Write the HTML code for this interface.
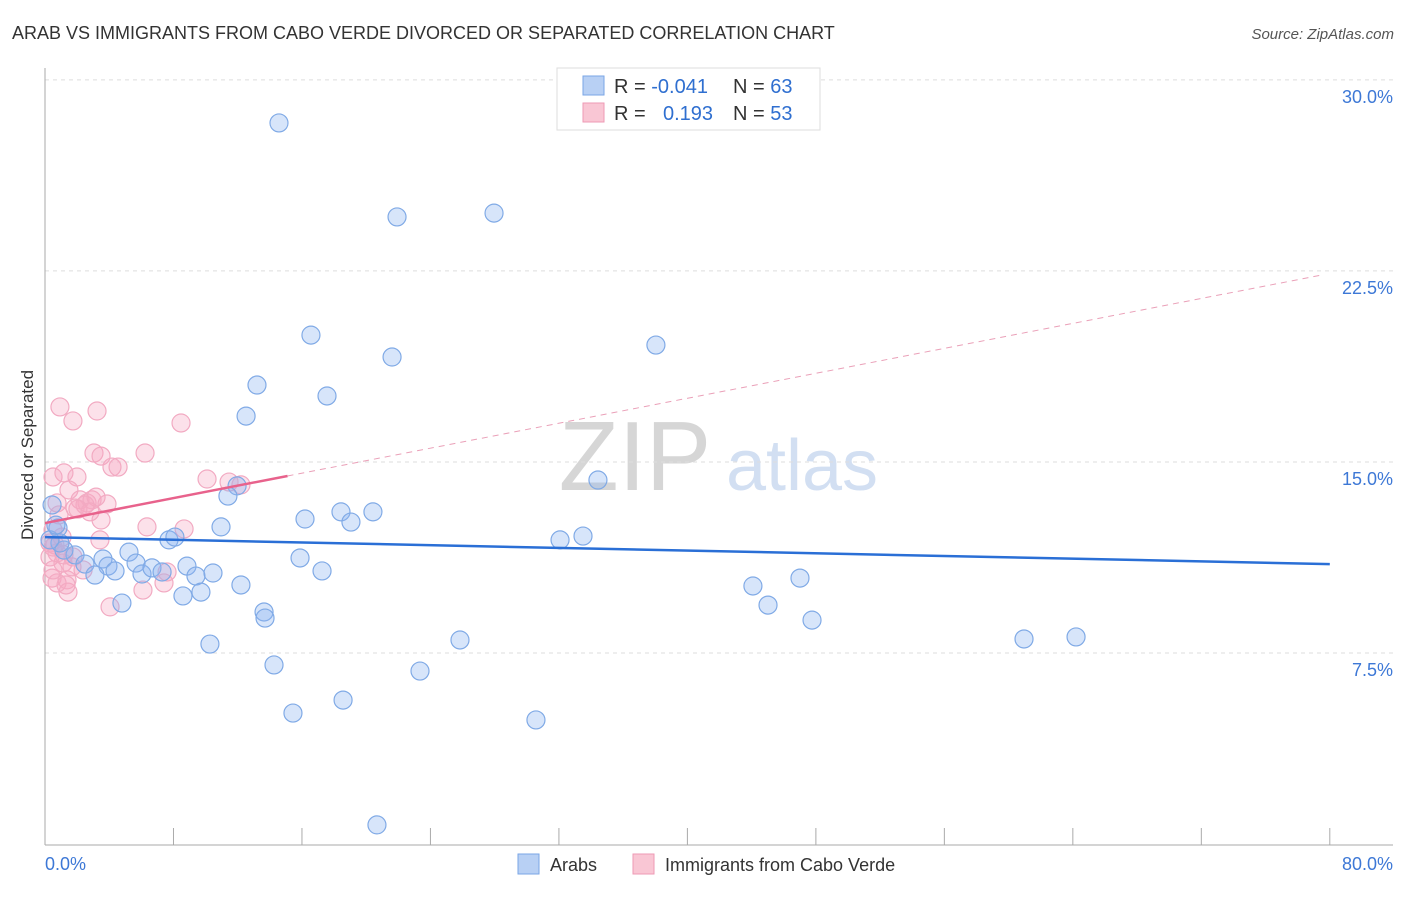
<!DOCTYPE html>
<html><head><meta charset="utf-8"><style>
body{margin:0;background:#fff;font-family:"Liberation Sans",sans-serif;}
svg text{font-family:"Liberation Sans",sans-serif;}
</style></head><body>
<svg id="chart" width="1406" height="892" xmlns="http://www.w3.org/2000/svg">
<text x="12" y="39" font-size="18" fill="#333">ARAB VS IMMIGRANTS FROM CABO VERDE DIVORCED OR SEPARATED CORRELATION CHART</text>
<text x="1394" y="39" font-size="15" fill="#555" text-anchor="end" font-style="italic">Source: ZipAtlas.com</text>
<g>
<text x="635" y="490" font-size="98" fill="#d6d6d6" font-family="Liberation Serif" text-anchor="middle">ZIP</text>
<text x="802" y="490" font-size="72" fill="#c8d8f0" text-anchor="middle" opacity="0.8">atlas</text>
</g>
<g id="grid"></g>
<g id="axes"></g>
<g id="marks"></g>
<text transform="translate(33,455) rotate(-90)" font-size="17" fill="#333" text-anchor="middle">Divorced or Separated</text>
<g>
<rect x="557" y="68" width="263" height="62" fill="#fff" stroke="#ddd"/>
<rect x="583" y="76" width="21" height="19" fill="#b8d0f4" stroke="#7aa6e6"/>
<rect x="583" y="103" width="21" height="19" fill="#f9c6d4" stroke="#ee9ab4"/>
<text x="614" y="93" font-size="20" fill="#333">R = <tspan fill="#2f6fd0">-0.041</tspan></text>
<text x="733" y="93" font-size="20" fill="#333">N = <tspan fill="#2f6fd0">63</tspan></text>
<text x="614" y="120" font-size="20" fill="#333">R = </text>
<text x="663" y="120" font-size="20" fill="#2f6fd0">0.193</text>
<text x="733" y="120" font-size="20" fill="#333">N = <tspan fill="#2f6fd0">53</tspan></text>
</g>
<g>
<rect x="518" y="854" width="21" height="20" fill="#b8d0f4" stroke="#7aa6e6"/>
<text x="550" y="871" font-size="18" fill="#333">Arabs</text>
<rect x="633" y="854" width="21" height="20" fill="#f9c6d4" stroke="#ee9ab4"/>
<text x="665" y="871" font-size="18" fill="#333">Immigrants from Cabo Verde</text>
</g>
</svg>
<script>
const yTicks=[7.5,15,22.5,30];
const yTickLabels=["7.5%","15.0%","22.5%","30.0%"];
const xTickCount=[0,8,16,24,32,40,48,56,64,72,80];
const arabX=[14.57,21.92,27.96,16.56,21.61,38.04,13.2,17.56,12.52,34.43,11.96,11.39,18.43,20.42,16.19,19.05,10.96,32.07,33.5,7.72,8.09,5.23,3.61,1.87,2.49,1.18,0.93,0.81,0.44,5.67,3.92,4.36,3.11,6.04,6.66,7.29,8.84,9.4,10.46,15.88,17.25,12.2,8.59,9.71,4.79,13.64,13.7,10.27,14.26,15.44,18.56,23.35,25.84,30.57,20.67,44.08,47.01,45.02,47.76,60.96,64.2,0.31,0.68];
const arabY=[28.31,24.62,24.77,19.98,19.12,19.59,18.02,17.59,16.8,14.29,14.06,13.66,13.04,13.04,12.76,12.64,12.45,11.94,12.09,11.94,12.05,11.46,11.19,11.35,10.99,11.54,11.82,12.41,13.31,11.03,10.91,10.72,10.56,10.6,10.84,10.68,10.91,10.52,10.64,11.23,10.72,10.17,9.74,9.89,9.46,9.11,8.87,7.85,7.03,5.14,5.65,6.79,8.01,4.87,0.75,10.13,10.44,9.38,8.79,8.05,8.13,11.94,12.52];
const caboX=[0.93,1.74,3.24,8.47,3.05,3.49,4.17,6.23,0.5,1.18,1.99,1.49,0.75,2.18,2.62,1.87,2.93,3.86,3.49,10.09,11.46,12.2,6.35,8.66,0.5,0.31,0.5,1.06,0.75,1.12,1.74,0.44,0.75,1.37,1.43,6.1,7.41,7.6,4.05,2.37,1.68,0.5,0.31,2.49,0.87,4.55,3.18,2.05,0.62,1.18,2.8,1.31,3.42];
const caboY=[17.16,16.61,17.0,16.53,15.35,15.23,14.8,15.35,14.41,14.57,14.41,13.9,13.39,13.51,13.39,13.19,13.51,13.35,12.72,14.33,14.21,14.1,12.45,12.37,12.33,11.82,11.66,12.05,11.43,11.03,11.27,10.44,10.25,10.37,9.89,9.97,10.25,10.68,9.31,10.76,10.88,10.76,11.27,13.31,12.92,14.8,13.62,13.15,11.74,11.35,13.04,10.17,11.94];
const arabTrend=[12.05,10.99];
const caboTrend=[12.6,0.1225];
const NS="http://www.w3.org/2000/svg";
const sx=v=>45+v*16.06, sy=v=>844-v*25.47;
function mk(tag,attrs,parent){const e=document.createElementNS(NS,tag);for(const k in attrs)e.setAttribute(k,attrs[k]);document.getElementById(parent).appendChild(e);return e;}
yTicks.forEach((t,i)=>{
 const g=mk('line',{x1:45,x2:1393,y1:sy(t),y2:sy(t),stroke:'#ddd','stroke-dasharray':'4,4'},'grid');
 
 
 const l=mk('text',{x:1393,y:sy(t)+23,'font-size':18,fill:'#3d78d6','text-anchor':'end'},'axes');
 l.textContent=yTickLabels[i];
 
 
});
const ax=mk('line',{x1:45,x2:45,y1:68,y2:845,stroke:'#aaa'},'axes');


const bx=mk('line',{x1:45,x2:1393,y1:845,y2:845,stroke:'#aaa'},'axes');


xTickCount.forEach(t=>{const k=mk('line',{x1:sx(t),x2:sx(t),y1:828,y2:845,stroke:'#aaa'},'axes');
 
 });
const x0=mk('text',{x:45,y:870,'font-size':18,fill:'#3d78d6'},'axes');x0.textContent='0.0%';


const x1=mk('text',{x:1393,y:870,'font-size':18,fill:'#3d78d6','text-anchor':'end'},'axes');x1.textContent='80.0%';


caboX.forEach((x,i)=>{const c=mk('circle',{cx:sx(x),cy:sy(caboY[i]),r:9,fill:'rgba(246,170,195,0.35)',stroke:'#f2aac2','stroke-width':1.2},'marks');
 
 });
arabX.forEach((x,i)=>{const c=mk('circle',{cx:sx(x),cy:sy(arabY[i]),r:9,fill:'rgba(140,180,240,0.35)',stroke:'#80aae6','stroke-width':1.2},'marks');
 
 });
const bl=mk('line',{x1:sx(0),y1:sy(arabTrend[0]),x2:sx(80),y2:sy(arabTrend[1]),stroke:'#2a6fd6','stroke-width':2.5},'marks');


const pe=15.1;
const pl=mk('line',{x1:sx(0),y1:sy(caboTrend[0]),x2:sx(pe),y2:sy(caboTrend[0]+caboTrend[1]*pe),stroke:'#e8628c','stroke-width':2.5},'marks');


const pd=mk('line',{x1:sx(pe),y1:sy(caboTrend[0]+caboTrend[1]*pe),x2:sx(79.6),y2:sy(caboTrend[0]+caboTrend[1]*79.6),stroke:'#eaa0b8','stroke-width':1,'stroke-dasharray':'6,5'},'marks');


</script>
</body></html>
